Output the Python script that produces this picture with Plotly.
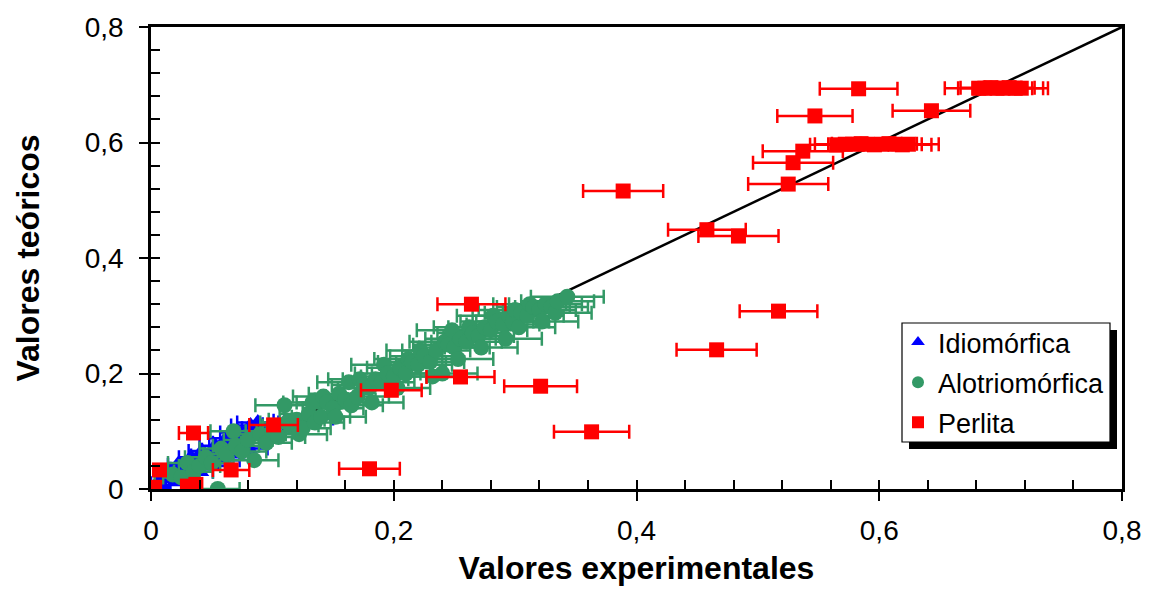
import plotly.graph_objects as go

# ---- data -------------------------------------------------------------
tick_vals = [0.0, 0.2, 0.4, 0.6, 0.8]
tick_text = ["0", "0,2", "0,4", "0,6", "0,8"]
minor_vals = [i * 0.04 for i in range(21)]

# Idiomórfica
idio_x = [0.002, 0.005, 0.010, 0.012, 0.015, 0.020, 0.022, 0.025, 0.030, 0.033,
          0.035, 0.040, 0.042, 0.045, 0.050, 0.053, 0.055, 0.060, 0.062, 0.065,
          0.070, 0.072, 0.075, 0.080, 0.082, 0.085, 0.088, 0.092, 0.100, 0.110,
          0.120, 0.130]
idio_y = [0.000, 0.010, 0.004, 0.022, 0.030, 0.012, 0.042, 0.035, 0.020, 0.055,
          0.045, 0.030, 0.066, 0.058, 0.040, 0.075, 0.068, 0.050, 0.088, 0.080,
          0.060, 0.098, 0.090, 0.070, 0.110, 0.100, 0.115, 0.105, 0.100, 0.112,
          0.118, 0.122]
idio_err = [0.004, 0.005, 0.006, 0.007, 0.007, 0.008, 0.008, 0.009, 0.009, 0.010,
            0.010, 0.011, 0.011, 0.012, 0.012, 0.013, 0.013, 0.013, 0.014, 0.014,
            0.015, 0.015, 0.015, 0.016, 0.016, 0.016, 0.017, 0.017, 0.017, 0.018,
            0.019, 0.020]

# Alotriomórfica
alo_x = [0.018, 0.025, 0.030, 0.035, 0.040, 0.045, 0.050, 0.055, 0.058, 0.062,
         0.068, 0.070, 0.075, 0.080, 0.085, 0.090, 0.095, 0.100,
         0.105, 0.110, 0.112, 0.115, 0.120, 0.122, 0.125, 0.130, 0.133, 0.135,
         0.140, 0.142, 0.145, 0.150, 0.152, 0.155, 0.160, 0.163, 0.165, 0.170,
         0.172, 0.175, 0.180, 0.182, 0.185, 0.190, 0.192, 0.195, 0.200, 0.203,
         0.205, 0.210, 0.212, 0.215, 0.220, 0.222, 0.225, 0.230, 0.232, 0.235,
         0.240, 0.242, 0.245, 0.248, 0.250, 0.253, 0.255, 0.260, 0.262, 0.265,
         0.270, 0.272, 0.275, 0.280, 0.282, 0.285, 0.290, 0.292, 0.295, 0.298,
         0.300, 0.303, 0.305, 0.310, 0.312, 0.315, 0.320, 0.322, 0.325, 0.330,
         0.333, 0.335, 0.343]
alo_y = [0.025, 0.020, 0.045, 0.030, 0.040, 0.055, 0.045, 0.000, 0.070, 0.060,
         0.100, 0.075, 0.065, 0.085, 0.050, 0.095, 0.080, 0.100,
         0.090, 0.145, 0.115, 0.110, 0.120, 0.095, 0.105, 0.130, 0.150, 0.115,
         0.125, 0.160, 0.150, 0.140, 0.125, 0.165, 0.155, 0.185, 0.145, 0.160,
         0.190, 0.180, 0.175, 0.150, 0.190, 0.185, 0.215, 0.200, 0.195, 0.175,
         0.210, 0.200, 0.225, 0.220, 0.215, 0.240, 0.230, 0.220, 0.195, 0.240,
         0.200, 0.255, 0.250, 0.275, 0.245, 0.225, 0.260, 0.255, 0.280, 0.270,
         0.265, 0.245, 0.280, 0.275, 0.300, 0.290, 0.285, 0.260, 0.300, 0.290,
         0.310, 0.280, 0.305, 0.300, 0.320, 0.315, 0.310, 0.290, 0.320, 0.315,
         0.305, 0.325, 0.333]
alo_err = [0.015, 0.015, 0.016, 0.016, 0.017, 0.017, 0.018, 0.018, 0.018, 0.019,
           0.019, 0.019, 0.020, 0.020, 0.020, 0.021, 0.021, 0.022,
           0.022, 0.024, 0.022, 0.023, 0.023, 0.023, 0.023, 0.024, 0.024, 0.024,
           0.024, 0.025, 0.025, 0.025, 0.025, 0.025, 0.025, 0.026, 0.026, 0.026,
           0.026, 0.026, 0.026, 0.026, 0.027, 0.027, 0.027, 0.027, 0.027, 0.027,
           0.027, 0.028, 0.028, 0.028, 0.028, 0.028, 0.028, 0.028, 0.028, 0.028,
           0.029, 0.029, 0.029, 0.029, 0.029, 0.029, 0.029, 0.029, 0.029, 0.029,
           0.029, 0.030, 0.030, 0.030, 0.030, 0.030, 0.030, 0.030, 0.030, 0.030,
           0.030, 0.030, 0.030, 0.030, 0.030, 0.030, 0.030, 0.030, 0.030, 0.030,
           0.030, 0.030, 0.030]

# Perlita
perl_x = [0.000, 0.003, 0.030, 0.037, 0.007, 0.035, 0.066, 0.101, 0.198, 0.180,
          0.255, 0.264, 0.321, 0.363, 0.389, 0.458, 0.484, 0.466, 0.517, 0.525,
          0.529, 0.537, 0.547, 0.583, 0.643,
          0.565, 0.572, 0.578, 0.585, 0.590, 0.596, 0.602, 0.608, 0.613, 0.619, 0.624,
          0.682, 0.687, 0.692, 0.697, 0.702, 0.707, 0.712, 0.717]
perl_y = [0.000, 0.003, 0.005, 0.008, 0.033, 0.097, 0.033, 0.111, 0.171, 0.035,
          0.194, 0.320, 0.178, 0.099, 0.516, 0.449, 0.438, 0.241, 0.308, 0.528,
          0.565, 0.585, 0.646, 0.693, 0.655,
          0.596, 0.597, 0.597, 0.598, 0.597, 0.596, 0.597, 0.598, 0.597, 0.596, 0.597,
          0.694, 0.694, 0.695, 0.694, 0.694, 0.695, 0.694, 0.694]
perl_err = [0.003, 0.003, 0.004, 0.004, 0.004, 0.012, 0.015, 0.020, 0.025, 0.025,
            0.028, 0.028, 0.030, 0.031, 0.033, 0.032, 0.033, 0.033, 0.032, 0.033,
            0.033, 0.033, 0.031, 0.032, 0.032,
            0.022, 0.025, 0.020, 0.024, 0.021, 0.025, 0.020, 0.023, 0.022, 0.024, 0.025,
            0.028, 0.022, 0.025, 0.020, 0.024, 0.021, 0.023, 0.022]

diag_x = [0.0, 0.8]
diag_y = [0.0, 0.8]

# ---- styles -----------------------------------------------------------
FONT = "Liberation Sans, Arial, sans-serif"
BLUE = "#0000FF"
GREEN = "#339966"
RED = "#FF0000"

W, H = 1152, 590
L, R, T, B = 151, 30, 27, 101
PW, PH = W - L - R, H - T - B


def px_x(px):
    return (px - L) / PW


def px_y(py):
    return (H - B - py) / PH


fig = go.Figure()

fig.add_trace(go.Scatter(x=diag_x, y=diag_y, mode="lines",
                         line=dict(color="black", width=2.5),
                         showlegend=False, hoverinfo="skip"))


def series(name, xs, ys, errs, color, symbol, size):
    return go.Scatter(
        x=xs, y=ys, mode="markers", name=name, legendgroup=name,
        marker=dict(color=color, symbol=symbol, size=size, line=dict(width=0)),
        error_x=dict(type="data", array=errs, color=color, thickness=2.5, width=7),
    )


fig.add_trace(series("Idiomórfica", idio_x, idio_y, idio_err, BLUE, "triangle-up", 17))
fig.add_trace(series("Alotriomórfica", alo_x, alo_y, alo_err, GREEN, "circle", 16))
fig.add_trace(series("Perlita", perl_x, perl_y, perl_err, RED, "square", 15))

# empty trace carrying the overlay axes used for the inner tick marks
fig.add_trace(go.Scatter(x=[], y=[], xaxis="x2", yaxis="y2",
                         showlegend=False, hoverinfo="skip"))

axis_common = dict(range=[0, 0.8], showgrid=False, zeroline=False, automargin=False,
                   showline=True, linecolor="black", linewidth=2.5, mirror=True,
                   ticks="outside", ticklen=9, tickwidth=2, tickcolor="black",
                   tickvals=tick_vals, ticktext=tick_text,
                   tickfont=dict(family=FONT, size=28, color="black"))

inner_common = dict(range=[0, 0.8], showgrid=False, zeroline=False, showline=False,
                    automargin=False,
                    ticks="inside", ticklen=9, tickwidth=2, tickcolor="black",
                    tickvals=minor_vals, showticklabels=False)

fig.update_layout(
    width=W, height=H,
    margin=dict(l=L, r=R, t=T, b=B),
    paper_bgcolor="white", plot_bgcolor="white",
    font=dict(family=FONT, color="black"),
    xaxis=dict(**axis_common, ticklabelstandoff=6,
               title=dict(text="<b>Valores experimentales</b>",
                          font=dict(family=FONT, size=32), standoff=12)),
    yaxis=dict(**axis_common, ticklabelstandoff=10,
               title=dict(text="<b>Valores teóricos</b>",
                          font=dict(family=FONT, size=32), standoff=36)),
    xaxis2=dict(**inner_common, overlaying="x", anchor="y2", side="bottom"),
    yaxis2=dict(**inner_common, overlaying="y", anchor="x2", side="left"),
    legend=dict(x=px_x(898), y=px_y(318), xanchor="left", yanchor="top",
                bgcolor="rgba(0,0,0,0)", borderwidth=0,
                font=dict(family=FONT, size=27, color="black"),
                tracegroupgap=2, itemsizing="constant"),
    showlegend=True,
)

# legend frame with drop shadow
fig.add_shape(type="rect", xref="paper", yref="paper",
              x0=px_x(909), x1=px_x(1117), y0=px_y(449), y1=px_y(330),
              fillcolor="black", line=dict(width=0), layer="above")
fig.add_shape(type="rect", xref="paper", yref="paper",
              x0=px_x(902), x1=px_x(1110), y0=px_y(442), y1=px_y(323),
              fillcolor="white", line=dict(color="black", width=1.2), layer="above")

fig.write_html("out.html")
